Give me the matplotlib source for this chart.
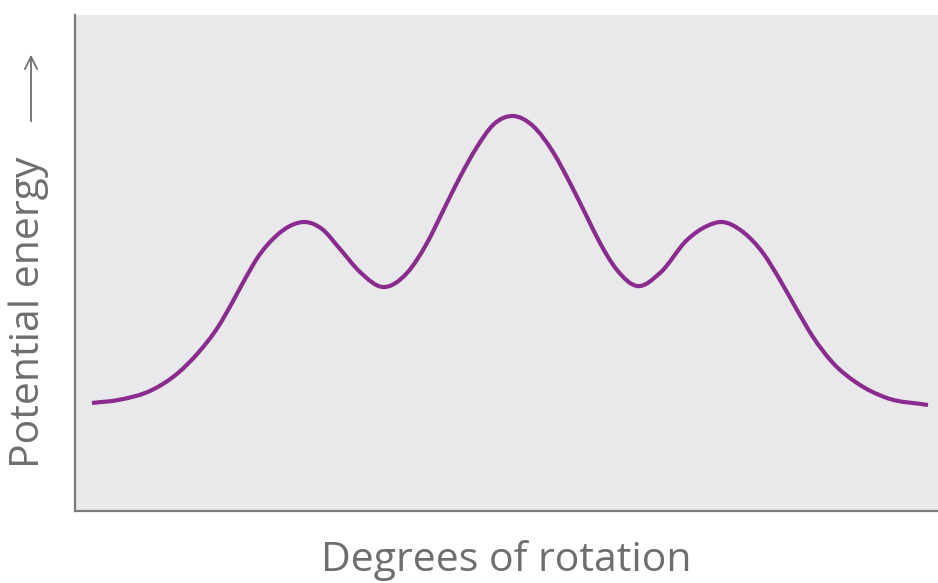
import matplotlib.pyplot as plt
import numpy as np
from matplotlib.path import Path
from matplotlib.patches import PathPatch

# curve (arbitrary units: rotation / energy)
rotation = [17, 43, 77, 103, 123, 143, 157, 170, 183, 200, 217, 230, 247,
            265, 285, 308, 332, 352, 368, 385, 402, 418, 438, 458,
            478, 495, 512, 525, 542, 562, 585, 612, 632, 647, 668,
            688, 705, 722, 738, 758, 782, 812, 853]
energy = [108, 111, 121, 138, 158, 184, 208, 232, 254, 274, 286, 289, 282,
          262, 239, 224, 238, 268, 300, 334, 364, 386, 395, 385,
          359, 328, 294, 268, 241, 225, 238, 271, 285, 289, 279,
          258, 231, 201, 174, 148, 128, 113, 106]

purple = '#8a2b8e'
grey_text = '#6e6e6e'


def smooth_path(xs, ys):
    # cubic Hermite through the read points (finite-difference slopes),
    # handed to matplotlib as Bezier segments
    x = np.asarray(xs, float)
    y = np.asarray(ys, float)
    m = np.gradient(y, x)
    verts = [(x[0], y[0])]
    codes = [Path.MOVETO]
    for i in range(len(x) - 1):
        h = x[i + 1] - x[i]
        verts += [(x[i] + h / 3, y[i] + m[i] * h / 3),
                  (x[i + 1] - h / 3, y[i + 1] - m[i + 1] * h / 3),
                  (x[i + 1], y[i + 1])]
        codes += [Path.CURVE4] * 3
    return Path(verts, codes)


fig = plt.figure(figsize=(9.38, 5.83), dpi=100)
ax = fig.add_axes([75 / 938, 72 / 583, 863 / 938, 496 / 583])
ax.set_facecolor('#e9e9eb')

ax.add_patch(PathPatch(smooth_path(rotation, energy), facecolor='none',
                       edgecolor=purple, lw=3.0, capstyle='butt'))

ax.set_xlim(0, 863)
ax.set_ylim(0, 496)
ax.set_xticks([])
ax.set_yticks([])
for side in ['top', 'right']:
    ax.spines[side].set_visible(False)
for side in ['left', 'bottom']:
    ax.spines[side].set_color('#7a7a7a')
    ax.spines[side].set_linewidth(1.6)

ax.set_xlabel('Degrees of rotation', fontsize=29.5, color=grey_text,
              family=['Open Sans', 'DejaVu Sans'], labelpad=21)
fig.text(29 / 938, 1 - 312 / 583, 'Potential energy', rotation=90,
         fontsize=29.5, color=grey_text, family=['Open Sans', 'DejaVu Sans'],
         ha='center', va='center')
# arrow next to the y label
ax.annotate('', xy=(31, 583 - 52), xycoords='figure pixels',
            xytext=(31, 583 - 124), textcoords='figure pixels',
            arrowprops=dict(arrowstyle='->', color=grey_text, lw=1.3,
                            mutation_scale=22))

fig.savefig('out.png', dpi=100)
